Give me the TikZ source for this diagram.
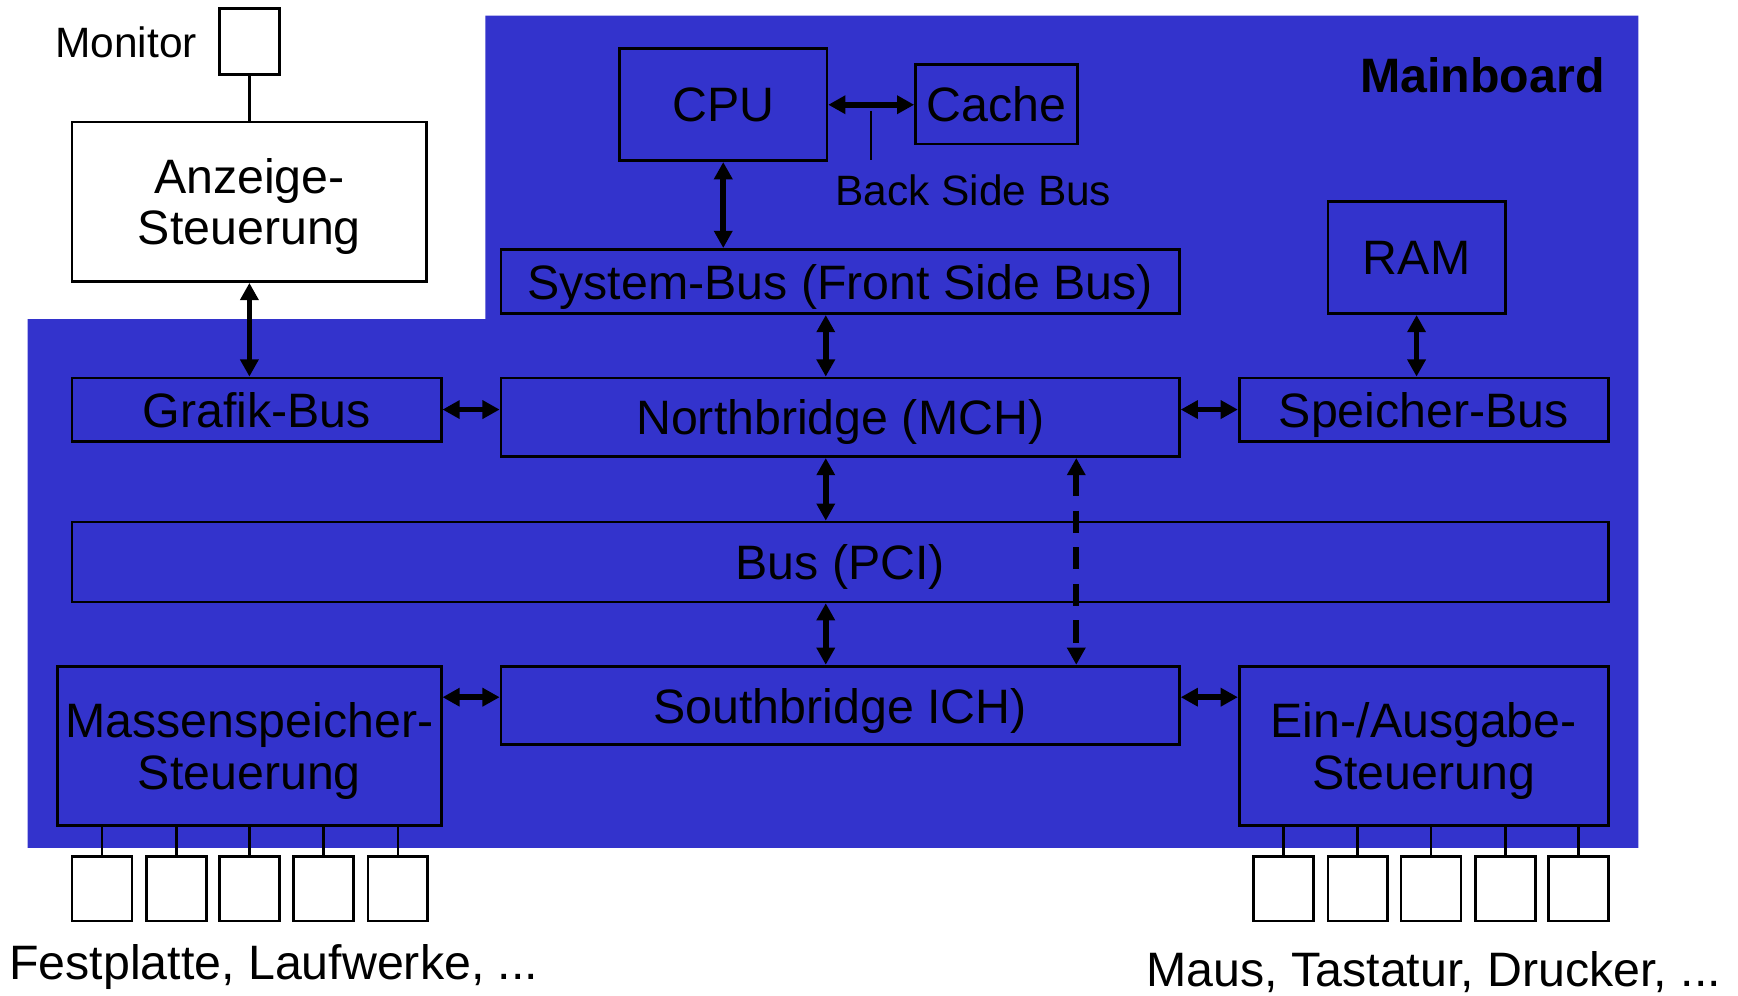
\documentclass[tikz,border=0pt]{standalone}
\usepackage{fontspec}
\setmainfont{Liberation Sans}
\usetikzlibrary{arrows.meta,positioning,calc}
\definecolor{boardblue}{RGB}{51,51,204}

\begin{document}
\begin{tikzpicture}[x=0.2mm,y=-0.2mm,>={Triangle[length=3.1mm,width=3.2mm]},
   font=\fontsize{24.8}{26.4}\selectfont,
   unit/.style={draw,line width=1.4pt,inner sep=0pt,text depth=0pt,align=center},
   plug/.style={draw,fill=white,line width=1.4pt,inner sep=0pt,minimum width=10.8mm,minimum height=11.6mm},
   link/.style={<->,line width=2.9pt},
   small/.style={font=\fontsize{21.8}{24}\selectfont,inner sep=0pt}]
  \useasboundingbox (0,0) rectangle (1568,898);
  % mainboard area
  \fill[boardblue] (438,14) -- (1478,14) -- (1478,765) -- (25,765) -- (25,288) -- (438,288) -- cycle;
  \node[anchor=east,inner sep=0pt,font=\bfseries\fontsize{24.8}{26.4}\selectfont] (board) at (1448,68) {Mainboard};

  % display side
  \node[plug,minimum height=11.8mm] (mon) at (225,37.5) {};
  \node[small,anchor=east] (monlbl) at (178,38) {Monitor};
  \node[unit,fill=white,minimum width=64mm,minimum height=28.8mm] (anz) at (225,182) {Anzeige-\\Steuerung};
  \node[unit,minimum width=66.6mm,minimum height=11.4mm] (gfx) at (231.5,369.5) {Grafik-Bus};

  % processor and buses
  \node[unit,minimum width=37.4mm,minimum height=20.2mm] (cpu) at (652.5,94.5) {CPU};
  \node[unit,minimum width=29.2mm,minimum height=14.4mm] (cache) at (899,94) {Cache};
  \node[small] (bsb) at (878,172) {Back Side Bus};
  \node[unit,minimum width=122.4mm,minimum height=11.6mm] (sys) at (758,254) {System-Bus (Front Side Bus)};
  \node[unit,minimum width=122.4mm,minimum height=14.2mm] (nb) at (758,376.5) {Northbridge (MCH)};
  \node[unit,minimum width=32mm,minimum height=20.2mm] (ram) at (1278,232.5) {RAM};
  \node[unit,minimum width=66.6mm,minimum height=11.4mm] (mem) at (1284.5,369.5) {Speicher-Bus};
  \node[unit,minimum width=277.2mm,minimum height=14.4mm] (pci) at (758,507) {Bus (PCI)};
  \node[unit,minimum width=122.4mm,minimum height=14.2mm] (sb) at (758,636.5) {Southbridge ICH)};
  \node[unit,minimum width=69.2mm,minimum height=28.8mm] (mass) at (225,673) {Massenspeicher-\\Steuerung};
  \node[unit,minimum width=66.6mm,minimum height=28.8mm] (io) at (1284.5,673) {Ein-/Ausgabe-\\Steuerung};

  % devices
  \foreach \i/\x in {1/92,2/159,3/225,4/292,5/359}{
    \node[plug] (d\i) at (\x,802) {};
    \draw[line width=1.4pt] (d\i.north) -- (d\i.north |- mass.south);}
  \foreach \i/\x in {1/1158,2/1225,3/1291,4/1358,5/1424}{
    \node[plug] (e\i) at (\x,802) {};
    \draw[line width=1.4pt] (e\i.north) -- (e\i.north |- io.south);}
  \node[anchor=west,inner sep=0pt] (hdd) at (8,872) {Festplatte, Laufwerke, ...};
  \node[anchor=east,inner sep=0pt] (periph) at (1553,877) {Maus, Tastatur, Drucker, ...};

  % connections
  \coordinate (vbus) at (745,0);
  \coordinate (vdash) at (971,0);
  \coordinate (hlow) at (0,629);
  \draw[line width=1.4pt] (mon.south) -- (anz.north);
  \draw[line width=1.2pt] (786,100) -- (786,144);
  \draw[link] (anz.south) -- (anz.south |- gfx.north);
  \draw[link] (gfx.east) -- (gfx.east -| nb.west);
  \draw[link] (cpu.east) -- (cpu.east -| cache.west);
  \draw[link] (cpu.south) -- (cpu.south |- sys.north);
  \draw[link] (vbus |- sys.south) -- (vbus |- nb.north);
  \draw[link] (vbus |- nb.south) -- (vbus |- pci.north);
  \draw[link] (vbus |- pci.south) -- (vbus |- sb.north);
  \draw[link,dash pattern=on 4mm off 2.6mm] (vdash |- nb.south) -- (vdash |- sb.north);
  \draw[link] (mem.west -| nb.east) -- (mem.west);
  \draw[link] (ram.south) -- (ram.south |- mem.north);
  \draw[link] (mass.east |- hlow) -- (sb.west |- hlow);
  \draw[link] (sb.east |- hlow) -- (io.west |- hlow);
\end{tikzpicture}
\end{document}
